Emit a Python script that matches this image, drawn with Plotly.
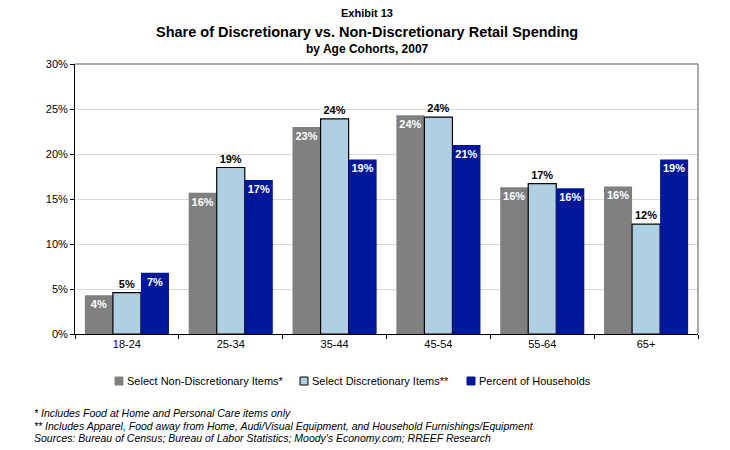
import plotly.graph_objects as go

# Age cohorts and share of spending (%) per series
age_cohorts = ["18-24", "25-34", "35-44", "45-54", "55-64", "65+"]
non_discretionary = [4.3, 15.7, 23.0, 24.3, 16.3, 16.4]
discretionary = [4.6, 18.5, 23.9, 24.1, 16.7, 12.2]
households = [6.8, 17.1, 19.4, 21.0, 16.2, 19.4]

series_names = [
    "Select Non-Discretionary Items*",
    "Select Discretionary Items**",
    "Percent of Households",
]
y_ticks = [0, 5, 10, 15, 20, 25, 30]
y_tick_labels = ["0%", "5%", "10%", "15%", "20%", "25%", "30%"]

footnotes = [
    "* Includes Food at Home and Personal Care items only",
    "** Includes Apparel, Food away from Home, Audi/Visual Equipment, and Household Furnishings/Equipment",
    "Sources: Bureau of Census; Bureau of Labor Statistics; Moody's Economy.com; RREEF Research",
]

FONT = "Liberation Sans, Arial, sans-serif"
GREY = "#808080"
LIGHT_BLUE = "#AFD0E3"
NAVY = "#001899"

# Plot area geometry (pixels) used to place titles, legend and notes
L, R, T, B = 75, 32, 64, 116
PW, PH = 730 - L - R, 450 - T - B


def px_x(x):
    return (x - L) / PW


def px_y(y):
    return (450 - B - y) / PH


fig = go.Figure()

fig.add_trace(go.Bar(
    x=age_cohorts, y=non_discretionary, name=series_names[0],
    marker=dict(color=GREY, line=dict(width=0)),
    texttemplate="%{y:.0f}%", textposition="inside", insidetextanchor="end",
    textangle=0,
    textfont=dict(family=FONT, size=11, color="white", weight="bold"),
    constraintext="none",
))
fig.add_trace(go.Bar(
    x=age_cohorts, y=discretionary, name=series_names[1],
    marker=dict(color=LIGHT_BLUE, line=dict(color="#000000", width=1.2)),
    texttemplate="%{y:.0f}%", textposition="outside", textangle=0,
    textfont=dict(family=FONT, size=11, color="black", weight="bold"),
    constraintext="none", cliponaxis=False,
))
fig.add_trace(go.Bar(
    x=age_cohorts, y=households, name=series_names[2],
    marker=dict(color=NAVY, line=dict(width=0)),
    texttemplate="%{y:.0f}%", textposition="inside", insidetextanchor="end",
    textangle=0,
    textfont=dict(family=FONT, size=11, color="white", weight="bold"),
    constraintext="none",
))

fig.update_layout(
    width=730, height=450,
    margin=dict(l=L, r=R, t=T, b=B),
    paper_bgcolor="white", plot_bgcolor="white",
    barmode="group", bargap=0.19, bargroupgap=0,
    showlegend=False,
    font=dict(family=FONT, size=11, color="#000000"),
    uniformtext=dict(minsize=11, mode="show"),
)

fig.update_xaxes(
    type="category",
    showline=True, linecolor="#000000", linewidth=1,
    ticks="outside", tickson="boundaries", ticklen=4, tickcolor="#000000",
    tickfont=dict(family=FONT, size=11, color="#000000"),
    showgrid=False,
)
fig.update_yaxes(
    range=[0, 30], tickmode="array", tickvals=y_ticks, ticktext=y_tick_labels,
    showline=True, linecolor="#000000", linewidth=1,
    ticks="outside", ticklen=4, tickcolor="#000000",
    tickfont=dict(family=FONT, size=11, color="#000000"),
    showgrid=True, gridcolor="#D9D9D9", gridwidth=1,
    zeroline=False,
)

# Plot frame: grey top and right edges
fig.add_shape(type="line", xref="paper", yref="paper", x0=0, x1=1, y0=1, y1=1,
              line=dict(color="#8C8C8C", width=1.5))
fig.add_shape(type="line", xref="paper", yref="paper", x0=1, x1=1, y0=0, y1=1,
              line=dict(color="#8C8C8C", width=1.5))

# Titles
titles = [
    ("Exhibit 13", 11, 13),
    ("Share of Discretionary vs. Non-Discretionary Retail Spending", 14.5, 32),
    ("by Age Cohorts, 2007", 12, 49),
]
for text, size, ypx in titles:
    fig.add_annotation(
        text=f"<b>{text}</b>", xref="paper", yref="paper",
        x=px_x(367), y=px_y(ypx),
        xanchor="center", yanchor="middle", showarrow=False,
        font=dict(family=FONT, size=size, color="#000000"),
    )

# Legend drawn as swatches with labels
legend_colors = [GREY, LIGHT_BLUE, NAVY]
legend_x = [115, 300, 467]
legend_y = 381
for name, color, lx in zip(series_names, legend_colors, legend_x):
    fig.add_shape(
        type="rect", xref="paper", yref="paper",
        x0=px_x(lx), x1=px_x(lx + 8),
        y0=px_y(legend_y + 4), y1=px_y(legend_y - 4),
        fillcolor=color,
        line=dict(color="#000000" if color == LIGHT_BLUE else color, width=1),
    )
    fig.add_annotation(
        text=name, xref="paper", yref="paper",
        x=px_x(lx + 10), y=px_y(legend_y),
        xanchor="left", yanchor="middle", showarrow=False,
        font=dict(family=FONT, size=11, color="#000000"),
    )

# Footnotes
for i, note in enumerate(footnotes):
    ypx = 413 + i * 12.5
    fig.add_annotation(
        text=f"<i>{note}</i>", xref="paper", yref="paper",
        x=px_x(32), y=px_y(ypx),
        xanchor="left", yanchor="middle", showarrow=False,
        font=dict(family=FONT, size=10.5, color="#000000"),
    )

fig.write_html("out.html")
